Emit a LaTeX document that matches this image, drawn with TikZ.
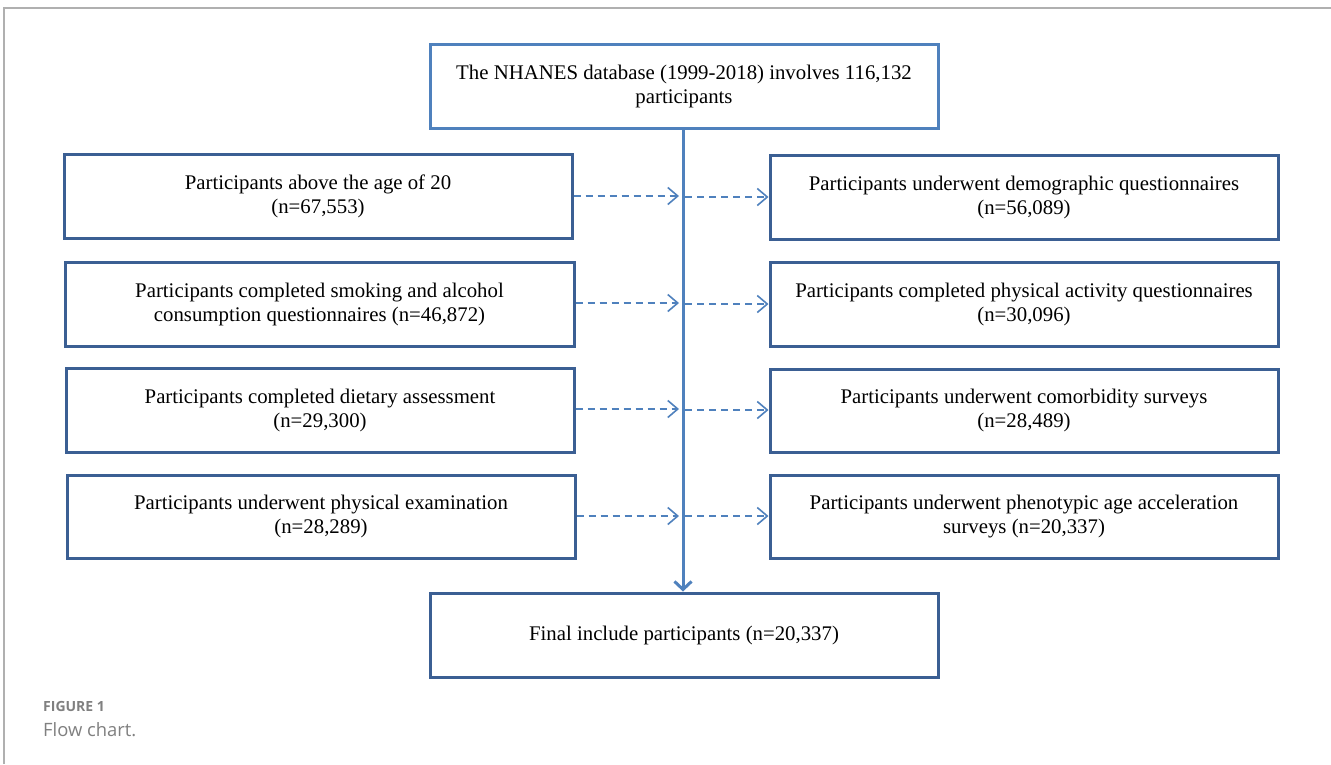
\documentclass[tikz,border=0pt]{standalone}
\usepackage{fontspec}
\setmainfont{Liberation Serif}
\newfontfamily\capfont{Open Sans}
\usetikzlibrary{arrows.meta}
\definecolor{lblue}{HTML}{4F81BD}
\definecolor{dblue}{HTML}{3B5F93}
\definecolor{framegray}{HTML}{B0B0B0}
\definecolor{capgray}{HTML}{808080}
\begin{document}
\begin{tikzpicture}[x=1pt,y=-1pt,
  box/.style={draw=dblue,line width=3pt,align=center,font=\fontsize{20.8}{24}\selectfont,inner sep=0pt},
  topbox/.style={box,draw=lblue},
  dasharrow/.style={draw=lblue,line width=1.6pt,dash pattern=on 7pt off 5pt,-{Straight Barb[length=10pt,width=17pt,line width=1.6pt]}},
  mainarrow/.style={draw=lblue,line width=3pt,-{Straight Barb[length=8pt,width=17pt,line width=3pt]}}]
\useasboundingbox (0,0) rectangle (1331,764);
\fill[white] (0,0) rectangle (1331,764);
\draw[framegray,line width=1.5pt] (4,764) -- (4,8) -- (1331,8);
% boxes
\node[topbox,minimum width=508pt,minimum height=84pt] (top) at (684,86) {The NHANES database (1999-2018) involves 116,132\\participants};
\node[box,minimum width=508pt,minimum height=84pt] (l1) at (318,196) {Participants above the age of 20\\(n=67,553)};
\node[box,minimum width=509pt,minimum height=84pt] (l2) at (319.5,304) {Participants completed smoking and alcohol\\consumption questionnaires (n=46,872)};
\node[box,minimum width=508pt,minimum height=84pt] (l3) at (320,410) {Participants completed dietary assessment\\(n=29,300)};
\node[box,minimum width=508pt,minimum height=83pt] (l4) at (321,516.5) {Participants underwent physical examination\\(n=28,289)};
\node[box,minimum width=508pt,minimum height=84pt] (r1) at (1024,197) {Participants underwent demographic questionnaires\\(n=56,089)};
\node[box,minimum width=508pt,minimum height=84pt] (r2) at (1024,304) {Participants completed physical activity questionnaires\\(n=30,096)};
\node[box,minimum width=508pt,minimum height=83pt] (r3) at (1024,410.5) {Participants underwent comorbidity surveys\\(n=28,489)};
\node[box,minimum width=508pt,minimum height=83pt] (r4) at (1024,516.5) {Participants underwent phenotypic age acceleration\\surveys (n=20,337)};
\node[box,minimum width=508pt,minimum height=84pt] (bot) at (684,635) {Final include participants (n=20,337)};
% main arrow
\draw[mainarrow] (top.south -| 683,0) -- (bot.north -| 683,0);
% dashed arrows
\foreach \l/\r/\yl/\yr in {l1/r1/196/197,l2/r2/303/304,l3/r3/409/410,l4/r4/516/516}{
  \draw[dasharrow] (\l.east |- 0,\yl) -- (679,\yl);
  \draw[dasharrow] (685,\yr) -- (\r.west |- 0,\yr);
}
% caption
\node[anchor=base west,inner sep=0pt,text=capgray,font=\capfont\bfseries\fontsize{14}{16}\selectfont] (fig) at (43,711) {FIGURE 1};
\node[anchor=base west,inner sep=0pt,text=capgray,font=\capfont\fontsize{18.4}{21}\selectfont] (cap) at (43,736) {Flow chart.};
\end{tikzpicture}
\end{document}
